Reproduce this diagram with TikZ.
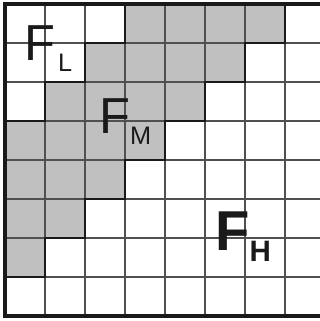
\documentclass[tikz,border=0pt]{standalone}
\usepackage{fontspec}
\setmainfont{Liberation Sans}
\usepackage{tikz}
\usetikzlibrary{calc}
\definecolor{regioncol}{HTML}{C0C0C0}
\definecolor{gridcol}{HTML}{505050}
\definecolor{edgecol}{HTML}{1A1A1A}
% big F with a lowered subscript letter
\newcommand{\flbl}[3]{F\kern#1\raisebox{-0.275cm}{\fontsize{#2}{#2}\selectfont #3}}

\begin{document}
\begin{tikzpicture}[
    x=1cm, y=0.975cm,
    gridline/.style={draw=gridcol, line width=0.8pt},
    border/.style={draw=edgecol, line width=2.2pt},
    stair/.style={draw=edgecol, line width=2pt, line join=miter},
    lbl/.style={anchor=base west, inner sep=0pt, text=edgecol},
    thinlbl/.style={lbl, font=\fontsize{36pt}{36pt}\selectfont},
    boldlbl/.style={lbl, font=\fontsize{40pt}{40pt}\selectfont\bfseries},
]
\useasboundingbox (-0.125cm,-0.125cm) rectangle (7.875cm,7.9cm);

% Shaded middle region
\fill[regioncol] (0,5) -- (1,5) -- (1,6) -- (2,6) -- (2,7) -- (3,7) -- (3,8)
    -- (7,8) -- (7,7) -- (6,7) -- (6,6) -- (5,6) -- (5,5) -- (4,5) -- (4,4)
    -- (3,4) -- (3,3) -- (2,3) -- (2,2) -- (1,2) -- (1,1) -- (0,1) -- cycle;

% Grid
\foreach \i in {1,...,7} {
    \draw[gridline] (\i,0) -- (\i,8);
    \draw[gridline] (0,\i) -- (8,\i);
}

% Staircase boundaries
\draw[stair] (0,5) -- (1,5) -- (1,6) -- (2,6) -- (2,7) -- (3,7) -- (3,8);
\draw[stair] (7,8) -- (7,7) -- (6,7) -- (6,6) -- (5,6) -- (5,5) -- (4,5)
    -- (4,4) -- (3,4) -- (3,3) -- (2,3) -- (2,2) -- (1,2) -- (1,1) -- (0,1);

% Outer frame
\draw[border] (0,0) rectangle (8,8);

% Labels
\node[thinlbl] (fl) at (0.475,6.54) {\flbl{0.075cm}{18pt}{L}};
\node[thinlbl] (fm) at (2.35,4.69) {\flbl{0cm}{18pt}{M}};
\node[boldlbl] (fh) at (5.25,1.667) {\flbl{0cm}{21pt}{H}};

\end{tikzpicture}
\end{document}
